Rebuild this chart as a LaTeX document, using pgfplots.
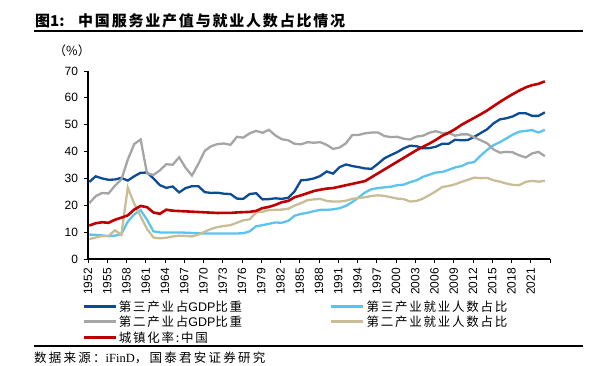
\documentclass[border=0pt]{standalone}
\usepackage{pgfplots}
\pgfplotsset{compat=1.18}
\usepackage{pgfplotstable}
\usepackage{fontspec}
\setmainfont{Liberation Sans}
\newfontfamily\cjk{Noto Sans CJK SC}
\newfontfamily\serif{Liberation Serif}
\newfontfamily\lat{Liberation Sans}
\definecolor{cBlue}{HTML}{0B4C95}
\definecolor{cLBlue}{HTML}{5AC3F0}
\definecolor{cGray}{HTML}{A5A5A5}
\definecolor{cTan}{HTML}{C9BD97}
\definecolor{cRed}{HTML}{C00000}
\pgfplotstableread{
year t3gdp t3emp t2gdp t2emp urban
1952 28.7 9.1 20.8 7.4 12.46
1953 30.8 9.0 23.4 8.0 13.31
1954 30.0 8.8 24.6 8.6 13.69
1955 29.5 8.5 24.4 8.6 13.48
1956 29.6 8.7 27.3 10.7 14.62
1957 30.2 9.3 29.6 9.0 15.39
1958 29.2 13.9 37.0 26.6 16.25
1959 30.8 16.6 42.8 20.6 18.41
1960 32.1 18.2 44.5 15.9 19.75
1961 32.2 14.6 31.9 11.2 19.29
1962 30.0 10.3 31.3 8.0 17.33
1963 27.5 9.9 33.0 7.7 16.84
1964 26.5 9.9 35.3 7.9 18.37
1965 27.0 9.9 35.1 8.4 17.98
1966 24.8 9.9 37.9 8.7 17.86
1967 26.4 9.8 34.0 8.6 17.74
1968 27.1 9.7 31.1 8.4 17.62
1969 27.1 9.6 35.4 9.1 17.50
1970 24.9 9.5 40.3 10.2 17.38
1971 24.6 9.5 42.0 11.2 17.26
1972 24.7 9.5 42.8 11.9 17.13
1973 24.3 9.5 43.0 12.3 17.20
1974 24.2 9.5 42.5 12.6 17.16
1975 22.5 9.5 45.5 13.5 17.34
1976 22.4 9.6 45.2 14.4 17.44
1977 24.2 10.3 46.8 14.8 17.55
1978 24.5 12.2 47.7 17.3 17.92
1979 22.2 12.6 47.0 17.6 18.96
1980 22.3 13.1 48.1 18.2 19.39
1981 22.6 13.6 46.0 18.3 20.16
1982 22.4 13.5 44.6 18.4 21.13
1983 22.8 14.2 44.2 18.7 21.62
1984 25.2 16.1 42.9 19.9 23.01
1985 29.3 16.8 42.7 20.8 23.71
1986 29.5 17.2 43.5 21.9 24.52
1987 30.0 17.8 43.3 22.2 25.32
1988 30.9 18.3 43.5 22.4 25.81
1989 32.6 18.3 42.5 21.6 26.21
1990 31.8 18.5 41.0 21.4 26.41
1991 34.2 18.9 41.5 21.4 26.94
1992 35.2 19.8 43.1 21.7 27.46
1993 34.6 21.2 46.2 22.4 27.99
1994 34.2 23.0 46.2 22.7 28.51
1995 33.7 24.8 46.8 23.0 29.04
1996 33.6 26.0 47.1 23.5 30.48
1997 35.5 26.4 47.1 23.7 31.91
1998 37.5 26.7 45.8 23.5 33.35
1999 38.7 26.9 45.4 23.0 34.78
2000 39.8 27.5 45.5 22.5 36.22
2001 41.2 27.7 44.8 22.3 37.66
2002 42.2 28.6 44.5 21.4 39.09
2003 42.0 29.3 45.6 21.6 40.53
2004 41.2 30.6 45.9 22.5 41.76
2005 41.3 31.4 47.0 23.8 42.99
2006 41.8 32.2 47.6 25.2 44.34
2007 42.9 32.4 46.9 26.8 45.89
2008 42.9 33.2 47.0 27.2 46.99
2009 44.4 34.1 45.9 27.8 48.34
2010 44.2 34.6 46.4 28.7 49.95
2011 44.3 35.7 46.4 29.5 51.27
2012 45.5 36.1 45.3 30.3 52.57
2013 46.9 38.5 44.2 30.1 53.90
2014 48.3 40.6 43.1 30.2 55.30
2015 50.5 42.4 40.8 29.3 56.90
2016 52.0 43.5 39.6 28.8 58.50
2017 52.4 44.9 39.9 28.1 60.00
2018 53.1 46.3 39.7 27.6 61.40
2019 54.3 47.4 38.6 27.5 62.71
2020 54.3 47.7 37.8 28.7 63.89
2021 53.3 48.0 39.3 29.1 64.72
2022 53.3 47.1 39.9 28.8 65.22
2023 54.6 48.1 38.3 29.1 66.16
}\datatable
\begin{document}
\begin{tikzpicture}[x=1pt,y=1pt]
\useasboundingbox (0,0) rectangle (602,-365);
\node[anchor=base west, inner sep=0pt, font=\cjk\bfseries\fontsize{15}{15}\selectfont] at (35,-26) {图1:};
\node[anchor=base west, inner sep=0pt, font=\cjk\bfseries\fontsize{15}{15}\selectfont\addfontfeature{LetterSpace=12}] at (78,-26) {中国服务业产值与就业人数占比情况};
\draw[line width=1.3pt] (34,-31) -- (583,-31);
\begin{axis}[
  at={(88pt,-259pt)}, anchor=south west,
  scale only axis, width=462pt, height=188pt,
  xmin=1951.8, xmax=2023.8, ymin=0, ymax=70,
  axis lines=left,
  axis line style={-, line width=1.2pt, black},
  ytick={0,10,...,70},
  xtick={1951.8,1954.8,...,2023.8},
  xticklabels={1952,1955,1958,1961,1964,1967,1970,1973,1976,1979,1982,1985,1988,1991,1994,1997,2000,2003,2006,2009,2012,2015,2018,2021,{}},
  tick align=outside,
  major tick length=4pt,
  tick style={line width=1pt, black},
  /pgf/number format/assume math mode=true,
  tick label style={font=\fontsize{12}{12}\selectfont},
  x tick label style={rotate=90, anchor=east},
  xticklabel shift=1.5pt,
  yticklabel shift=2.5pt,
  clip=false,
  legend columns=2,
  legend cell align=left,
  legend style={draw=none, fill=none, at={(-0.013,-0.209)}, anchor=north west,
    font=\cjk\fontsize{12.5}{12.5}\selectfont\addfontfeature{LetterSpace=14}, inner sep=0pt,
    column sep=0pt, row sep=0pt,
    nodes={inner xsep=2pt, inner ysep=0pt, text height=12.5pt, text depth=3pt}},
  legend image code/.code={\draw[#1, line width=2.7pt] (0pt,0pt) -- (32pt,0pt);},
]
\addplot[cBlue, line width=2.3pt] table[x=year, y=t3gdp] {\datatable};
\addlegendentry{\makebox[209pt][l]{第三产业占{\lat GDP}比重}}
\addplot[cLBlue, line width=2.3pt] table[x=year, y=t3emp] {\datatable};
\addlegendentry{第三产业就业人数占比}
\addplot[cGray, line width=2.3pt] table[x=year, y=t2gdp] {\datatable};
\addlegendentry{\makebox[209pt][l]{第二产业占{\lat GDP}比重}}
\addplot[cTan, line width=2.3pt] table[x=year, y=t2emp] {\datatable};
\addlegendentry{第二产业就业人数占比}
\addplot[cRed, line width=2.6pt] table[x=year, y=urban] {\datatable};
\addlegendentry{城镇化率:中国}
\end{axis}
\node[font=\cjk\fontsize{12.5}{12.5}\selectfont, anchor=center, inner sep=0pt] at (72,-51) {（\%）};
\draw[line width=1.3pt] (34,-346) -- (583,-346);
\node[anchor=base west, inner sep=0pt, font=\cjk\fontsize{12.5}{12.5}\selectfont\addfontfeature{LetterSpace=18}] at (34,-362) {数据来源：{\serif iFinD}，国泰君安证券研究};
\end{tikzpicture}
\end{document}
